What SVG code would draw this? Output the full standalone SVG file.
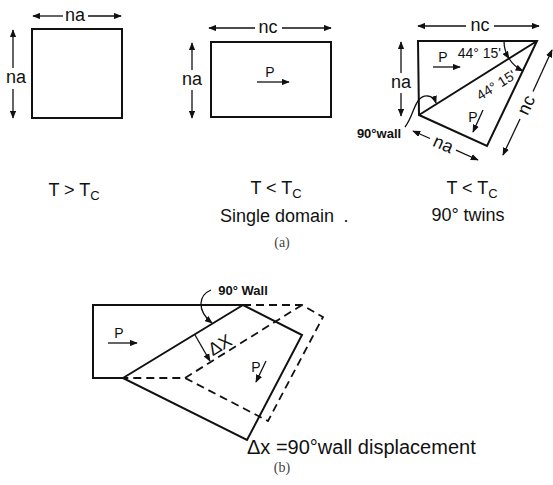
<svg xmlns="http://www.w3.org/2000/svg" width="553" height="485" viewBox="0 0 553 485">
<style>
.shape{fill:none;stroke:#111;stroke-width:2;stroke-linejoin:miter}
.dash{fill:none;stroke:#111;stroke-width:1.8;stroke-dasharray:8 5}
.dim{fill:none;stroke:#111;stroke-width:1.3;marker-end:url(#ah)}
.lbl{font-family:"Liberation Sans",Arial,sans-serif;fill:#111;text-anchor:middle}
.big{font-size:18px}
.cap{font-size:18px}
.sm{font-size:14px}
.note{font-size:13px;font-weight:bold}
.ang{font-size:14px}
.fig{font-family:"Liberation Serif","Times New Roman",serif;fill:#444;font-size:14px;text-anchor:middle}
</style>
<defs>
<marker id="ah" viewBox="0 0 10 8" refX="9" refY="4" markerWidth="8" markerHeight="6.4" markerUnits="userSpaceOnUse" orient="auto">
<path d="M0,0 L10,4 L0,8 Z" fill="#111"/>
</marker>
</defs>

<g id="panel-a1">
<rect class="shape" x="32" y="29" width="90" height="89"/>
<text class="lbl big" x="75" y="21">na</text>
<text class="lbl big" x="16" y="83">na</text>
<text class="lbl cap" x="74" y="196">T &gt; T<tspan font-size="13" dy="4">C</tspan></text>
</g>

<g id="panel-a2">
<rect class="shape" x="211" y="42" width="120" height="75"/>
<text class="lbl big" x="268" y="33">nc</text>
<text class="lbl big" x="192" y="85">na</text>
<text class="lbl sm" x="270" y="77">P</text>
<text class="lbl cap" x="276" y="194">T &lt; T<tspan font-size="13" dy="4">C</tspan></text>
<text class="lbl cap" x="277" y="222">Single domain</text>
<text class="lbl cap" x="346" y="222">.</text>
</g>

<g id="panel-a3">
<path class="shape" d="M418,41 L537,41 L487,146 L419,115 Z M419,115 L537,41"/>
<text class="lbl big" x="480" y="31">nc</text>
<text class="lbl big" x="401" y="88">na</text>
<text class="lbl big" transform="translate(526,105) rotate(-65)" y="6">nc</text>
<text class="lbl big" transform="translate(443,145) rotate(24)" y="5">na</text>
<text class="lbl note" x="379" y="138">90°wall</text>
<text class="lbl sm" x="443" y="62">P</text>
<text class="lbl sm" x="473" y="122">P</text>
<text class="lbl ang" x="501" y="58" style="text-anchor:end">44° 15'</text>
<text class="lbl ang" transform="translate(496,85) rotate(-32)" y="5">44° 15'</text>
<text class="lbl cap" x="472" y="194">T &lt; T<tspan font-size="13" dy="4">C</tspan></text>
<text class="lbl cap" x="468" y="221">90° twins</text>
</g>

<g id="panel-b">
<path class="shape" d="M123,378 L93,378 L93,305 L243,305 L302,335 L247,440 Z M123,378 L243,305"/>
<path class="dash" d="M243,305 L302,305 L323,317 L268,421 L185,378 L123,378 M185,378 L302,305"/>
<text class="lbl note" x="243" y="295">90° Wall</text>
<text class="lbl sm" x="119" y="338">P</text>
<text class="lbl sm" x="256" y="372">P</text>
<text class="lbl big" transform="translate(220,345) rotate(-31)" y="6">ΔX</text>
<text class="lbl" x="247" y="454" font-size="20" style="text-anchor:start">Δx =90°wall displacement</text>
</g>

<g id="captions">
<text class="fig" x="282" y="247">(a)</text>
<text class="fig" x="282" y="472">(b)</text>
</g>

<g id="connectors">
<line class="dim" x1="63" y1="16" x2="33" y2="16"/>
<line class="dim" x1="88" y1="16" x2="121" y2="16"/>
<line class="dim" x1="13" y1="68" x2="13" y2="30"/>
<line class="dim" x1="13" y1="89" x2="13" y2="118"/>

<line class="dim" x1="255" y1="28" x2="209" y2="28"/>
<line class="dim" x1="282" y1="28" x2="331" y2="28"/>
<line class="dim" x1="192" y1="70" x2="192" y2="43"/>
<line class="dim" x1="192" y1="90" x2="192" y2="118"/>
<line class="dim" x1="257" y1="82" x2="289" y2="82"/>

<line class="dim" x1="466" y1="26" x2="418" y2="26"/>
<line class="dim" x1="494" y1="26" x2="539" y2="26"/>
<line class="dim" x1="401" y1="73" x2="401" y2="42"/>
<line class="dim" x1="401" y1="93" x2="401" y2="116"/>
<line class="dim" x1="520" y1="119" x2="503" y2="155"/>
<line class="dim" x1="533" y1="91.5" x2="552" y2="50"/>
<line class="dim" x1="430" y1="138.5" x2="413" y2="131"/>
<line class="dim" x1="456" y1="150.2" x2="478" y2="160"/>
<path class="dim" d="M405,127 C412,118 413,108 418,101 C423,94 433,94 436,103"/>
<line class="dim" x1="433" y1="67" x2="460" y2="67"/>
<line class="dim" x1="483" y1="110" x2="473" y2="132"/>
<path class="dim" d="M504,41 A33,33 0 0 0 509,58.5"/>
<path class="dim" d="M509,58.5 A33,33 0 0 0 522.8,70.8"/>

<path class="dim" d="M211,290 C199,295 196,310 212,323"/>
<line class="dim" x1="195" y1="335" x2="210" y2="361"/>
<line class="dim" x1="108" y1="343" x2="137" y2="343"/>
<line class="dim" x1="266" y1="361" x2="256" y2="382"/>
</g>
</svg>
